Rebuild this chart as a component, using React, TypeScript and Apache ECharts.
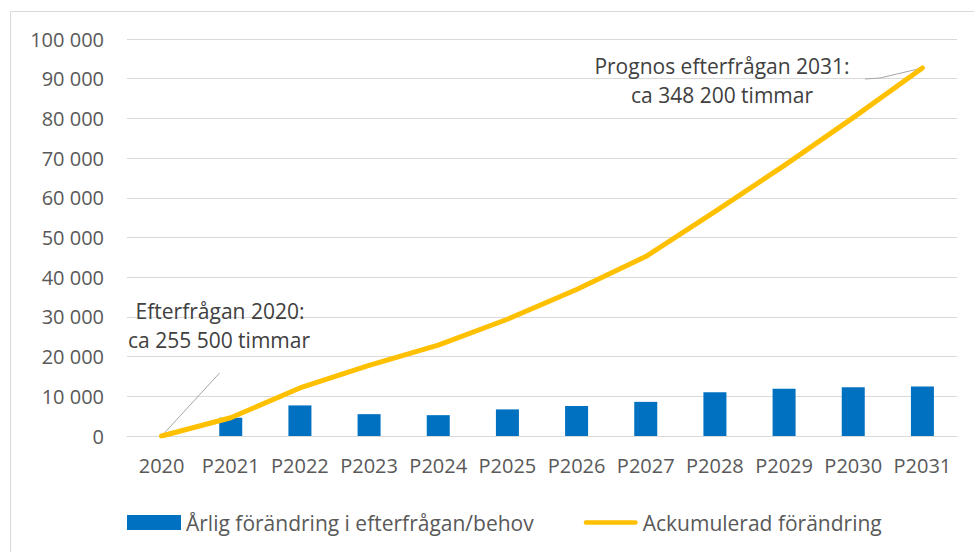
import React, { useEffect, useRef } from "react";
import * as echarts from "echarts";

const categories = ["2020", "P2021", "P2022", "P2023", "P2024", "P2025", "P2026", "P2027", "P2028", "P2029", "P2030", "P2031"];
const annualChange = [0, 4600, 7700, 5500, 5250, 6700, 7550, 8600, 11050, 11900, 12300, 12500];
const accumulated = [0, 4600, 12100, 17800, 22900, 29400, 36900, 45200, 56500, 68100, 80200, 92700];
const seriesNames = ["Årlig förändring i efterfrågan/behov", "Ackumulerad förändring"];
const startNote = ["Efterfrågan 2020:", "ca 255 500 timmar"];
const endNote = ["Prognos efterfrågan 2031:", "ca 348 200 timmar"];

const FONT = "'Open Sans', 'Noto Sans', sans-serif";

export default function App() {
  const ref = useRef<HTMLDivElement>(null);
  useEffect(() => {
    if (!ref.current) return;
    const chart = echarts.init(ref.current, null, { renderer: "svg" });
    const fmt = (v: number) => String(v).replace(/\B(?=(\d{3})+(?!\d))/g, " ");
    chart.setOption({
      animation: false,
      backgroundColor: "#ffffff",
      textStyle: { fontFamily: FONT },
      grid: { left: 127, right: 17, top: 39, bottom: 116, containLabel: false },
      legend: {
        left: 122,
        top: 507,
        itemWidth: 54,
        itemHeight: 15,
        itemGap: 50,
        textStyle: { fontSize: 21, color: "#595959", fontFamily: FONT },
        data: [
          { name: seriesNames[0], icon: "rect" },
          {
            name: seriesNames[1],
            icon: "path://M2.5,0 L57.5,0 A2.5,2.5 0 0 1 57.5,5 L2.5,5 A2.5,2.5 0 0 1 2.5,0 Z",
            itemStyle: { color: "#FFC000" },
          },
        ],
      },
      xAxis: {
        type: "category",
        data: categories,
        boundaryGap: true,
        axisLine: { show: true, lineStyle: { color: "#d9d9d9", width: 1 } },
        axisTick: { show: false },
        axisLabel: { color: "#595959", fontSize: 20, margin: 19, fontFamily: FONT, interval: 0 },
      },
      yAxis: {
        type: "value",
        min: 0,
        max: 100000,
        interval: 10000,
        axisLine: { show: false },
        axisTick: { show: false },
        splitLine: { lineStyle: { color: "#d9d9d9", width: 1 } },
        axisLabel: { color: "#595959", fontSize: 20, margin: 23, fontFamily: FONT, formatter: fmt },
      },
      series: [
        {
          name: seriesNames[0],
          type: "bar",
          data: annualChange,
          barWidth: 23,
          itemStyle: { color: "#0070C0" },
        },
        {
          name: seriesNames[1],
          type: "line",
          data: accumulated,
          symbol: "none",
          showSymbol: false,
          lineStyle: { color: "#FFC000", width: 5, cap: "round", join: "round" },
          itemStyle: { color: "#FFC000" },
        },
      ],
    });

    const p0 = chart.convertToPixel({ gridIndex: 0 }, [0, accumulated[0]]) as number[];
    const pN = chart.convertToPixel({ gridIndex: 0 }, [categories.length - 1, accumulated[accumulated.length - 1]]) as number[];
    const textStyle = { fill: "#404040", fontSize: 21, fontFamily: FONT, align: "center", verticalAlign: "middle" };
    chart.setOption({
      graphic: [
        {
          type: "rect",
          silent: true,
          shape: { x: 10.5, y: 11.5, width: 1000, height: 1000 },
          style: { fill: "none", stroke: "#d9d9d9", lineWidth: 1 },
        },
        {
          type: "line",
          silent: true,
          shape: { x1: p0[0], y1: p0[1], x2: p0[0] + 58, y2: p0[1] - 63 },
          style: { stroke: "#A6A6A6", lineWidth: 1 },
        },
        { type: "text", x: 220, y: 311, style: { ...textStyle, text: startNote[0] } },
        { type: "text", x: 219, y: 340, style: { ...textStyle, text: startNote[1] } },
        {
          type: "polyline",
          silent: true,
          shape: { points: [[865, 79], [880, 78], [pN[0], pN[1]]] },
          style: { stroke: "#A6A6A6", lineWidth: 1, fill: "none" },
        },
        { type: "text", x: 722, y: 66, style: { ...textStyle, text: endNote[0] } },
        { type: "text", x: 722, y: 95, style: { ...textStyle, text: endNote[1] } },
      ],
    });
    return () => chart.dispose();
  }, []);
  return (
    <div
      ref={ref}
      style={{ position: "fixed", left: 0, top: 0, width: 974, height: 552 }}
    />
  );
}
